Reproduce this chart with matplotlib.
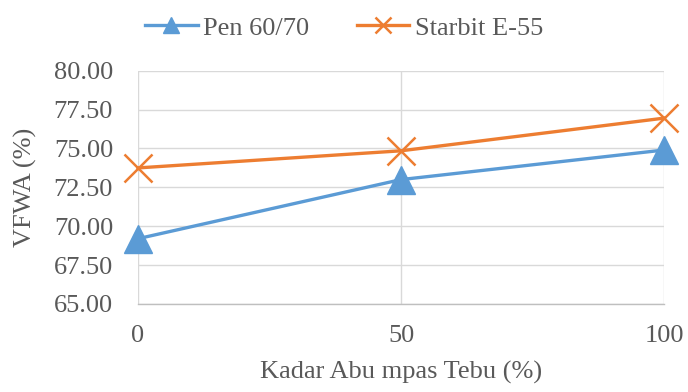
import matplotlib.pyplot as plt

categories = ["0", "50", "100"]
pen = [69.2, 73.0, 74.9]
starbit = [73.75, 74.85, 76.95]
yticks = [65.0, 67.5, 70.0, 72.5, 75.0, 77.5, 80.0]

plt.rcParams["font.family"] = ["Liberation Serif", "DejaVu Serif"]
txt = "#595959"

fig = plt.figure(figsize=(6.88, 3.92), dpi=100)
ax = fig.add_axes([0.2006, 0.2245, 0.7645, 0.5951])

x = list(range(len(categories)))
ax.plot(x, pen, color="#5B9BD5", lw=2.4, marker="^", ms=20,
        label="Pen 60/70", clip_on=False, zorder=3)
ax.plot(x, starbit, color="#ED7D31", lw=2.4, marker="x", ms=20, mew=1.8,
        label="Starbit E-55", clip_on=False, zorder=3)

ax.set_xlim(0, len(categories) - 1)
ax.set_ylim(65, 80)
ax.set_xticks(x)
ax.set_xticklabels(categories)
ax.set_yticks(yticks)
ax.set_yticklabels([f"{v:.2f}" for v in yticks])
ax.grid(True, color="#d9d9d9", lw=1.0)
ax.set_axisbelow(True)
for s in ["top", "right", "left"]:
    ax.spines[s].set_visible(False)
ax.spines["bottom"].set_color("#bfbfbf")
ax.spines["bottom"].set_linewidth(1.0)
ax.tick_params(axis="both", length=0, labelsize=19, colors=txt)
ax.tick_params(axis="y", pad=18)
ax.tick_params(axis="x", pad=15)
ax.set_xlabel("Kadar Abu mpas Tebu (%)", fontsize=19, color=txt, labelpad=10)
ax.set_ylabel("VFWA (%)", fontsize=19, color=txt, labelpad=12)

leg = fig.legend(loc="center", bbox_to_anchor=(0.5, 0.929), ncol=2, frameon=False,
                 fontsize=19, handlelength=2.0, columnspacing=1.8, handletextpad=0.2,
                 labelcolor=txt)
for h in leg.legend_handles:
    h.set_markersize(12)

fig.savefig("out.png", dpi=100)
